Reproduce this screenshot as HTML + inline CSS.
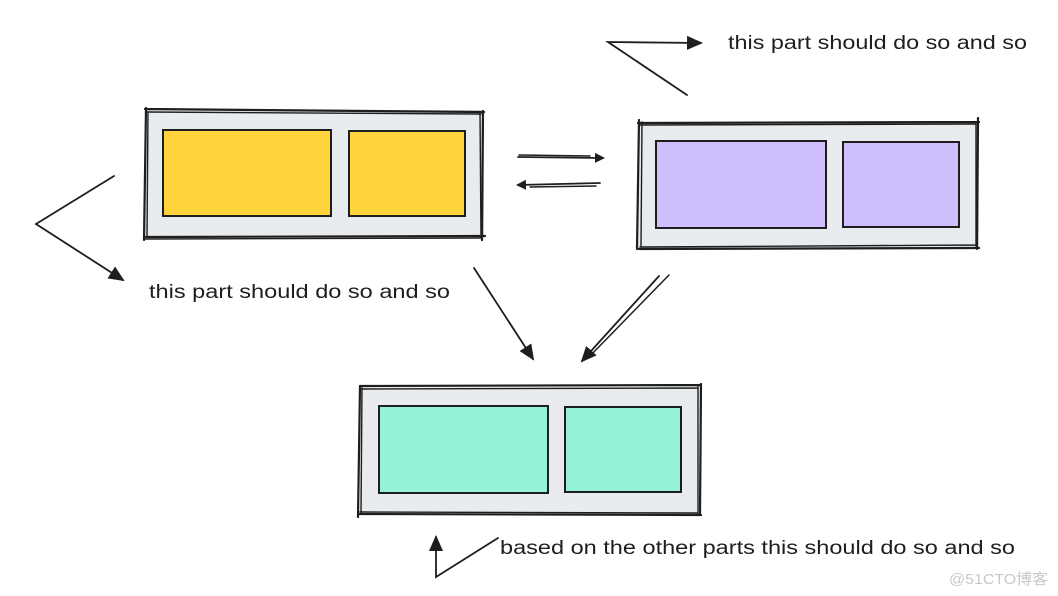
<!DOCTYPE html>
<html><head><meta charset="utf-8"><style>html,body{margin:0;padding:0;background:#fff;}svg{display:block}</style></head>
<body>
<svg width="1058" height="596" viewBox="0 0 1058 596" xmlns="http://www.w3.org/2000/svg">
<defs>
<marker id="ah" markerWidth="10" markerHeight="10" refX="8" refY="5" orient="auto" markerUnits="userSpaceOnUse" viewBox="0 0 10 10">
<path d="M0,0 L10,5 L0,10 Z" fill="#1e1e1e"/></marker>
<marker id="ahb" markerWidth="16" markerHeight="14" refX="14" refY="7" orient="auto" markerUnits="userSpaceOnUse" viewBox="0 0 16 14">
<path d="M0,0 L16,7 L0,14 Z" fill="#1e1e1e"/></marker>
</defs>
<g stroke="#1e1e1e" fill="none" stroke-linecap="round">
<!-- Box 1 -->
<rect x="145" y="110" width="339" height="128" fill="#e9ecef" stroke="none"/>
<path d="M145,109 L484,112 M146,237 L485,236 M146,108 L144,240 M483,111 L482,240" stroke-width="2.2"/>
<path d="M147,112 L481,114 M144,239 L480,238 M148,112 L147,237 M480,112 L481,238" stroke-width="1.4"/>
<rect x="163" y="130" width="168" height="86" fill="#ffd43b" stroke-width="2"/>
<rect x="349" y="131" width="116" height="85" fill="#ffd43b" stroke-width="2"/>
<!-- Box 2 -->
<rect x="638" y="122" width="341" height="126" fill="#e9ecef" stroke="none"/>
<path d="M638,123 L979,122 M639,249 L979,248 M639,120 L637,249 M978,118 L977,249" stroke-width="2.2"/>
<path d="M640,125 L975,124 M640,247 L976,245 M642,122 L641,246 M976,122 L976,246" stroke-width="1.4"/>
<rect x="656" y="141" width="170" height="87" fill="#d0bfff" stroke-width="2"/>
<rect x="843" y="142" width="116" height="85" fill="#d0bfff" stroke-width="2"/>
<!-- Box 3 -->
<rect x="360" y="386" width="341" height="129" fill="#e9ecef" stroke="none"/>
<path d="M360,386 L701,385 M359,514 L701,515 M360,386 L358,517 M701,384 L700,515" stroke-width="2.2"/>
<path d="M361,389 L698,388 M360,512 L698,513 M362,388 L361,514 M698,386 L698,514" stroke-width="1.4"/>
<rect x="379" y="406" width="169" height="87" fill="#96f2d7" stroke-width="2"/>
<rect x="565" y="407" width="116" height="85" fill="#96f2d7" stroke-width="2"/>
<!-- horizontal arrows -->
<path d="M518,157 L603,158" stroke-width="1.8" marker-end="url(#ah)"/>
<path d="M519,155 L590,156" stroke-width="1.4"/>
<path d="M600,183 L518,185" stroke-width="1.8" marker-end="url(#ah)"/>
<path d="M596,186 L530,187" stroke-width="1.4"/>
<!-- top right pointer -->
<path d="M687,95 L608,42 L701,43" stroke-width="1.8" marker-end="url(#ahb)"/>
<!-- left pointer -->
<path d="M114,176 L36,224 L123,280" stroke-width="1.8" marker-end="url(#ahb)"/>
<!-- diagonals -->
<path d="M474,268 L533,359" stroke-width="1.8" marker-end="url(#ahb)"/>
<path d="M659,276 L582,361" stroke-width="1.8" marker-end="url(#ahb)"/>
<path d="M669,275 L588,358" stroke-width="1.5"/>
<!-- bottom pointer -->
<path d="M498,538 L436,577 L436,537" stroke-width="1.8" marker-end="url(#ahb)"/>
</g>
<g font-family="Liberation Sans, sans-serif" font-size="19" fill="#1e1e1e">
<text x="728" y="49" textLength="299" lengthAdjust="spacingAndGlyphs">this part should do so and so</text>
<text x="149" y="298" textLength="301" lengthAdjust="spacingAndGlyphs">this part should do so and so</text>
<text x="500" y="554" textLength="515" lengthAdjust="spacingAndGlyphs">based on the other parts this should do so and so</text>
</g>
<text x="949" y="584" font-family="Liberation Sans, 'Noto Sans CJK SC', sans-serif" font-size="15" fill="#c8c8c8" textLength="99" lengthAdjust="spacingAndGlyphs">@51CTO博客</text>
</svg>
</body></html>
